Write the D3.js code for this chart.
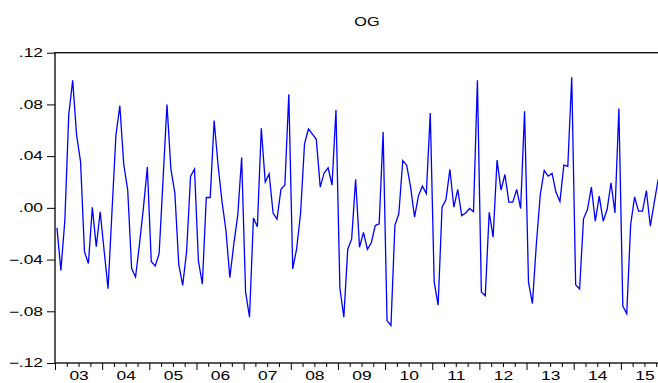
<!DOCTYPE html>
<html>
<head>
<meta charset="utf-8">
<script src="https://cdn.jsdelivr.net/npm/d3@7/dist/d3.min.js"></script>
<style>
  body { margin: 0; background: #fff; }
  svg { display: block; font-family: Arial, "Liberation Sans", sans-serif; }
</style>
</head>
<body>
<div id="chart"></div>
<script>
// monthly OG values, one array per year (2003M01 .. 2015M10)
const og03 = [-0.0155, -0.0485, -0.0100, 0.0720, 0.0986, 0.0560, 0.0360, -0.0340, -0.0430, 0.0005, -0.0300, -0.0030];
const og04 = [-0.0330, -0.0625, -0.0030, 0.0560, 0.0790, 0.0335, 0.0140, -0.0470, -0.0535, -0.0280, 0.0000, 0.0315];
const og05 = [-0.0415, -0.0450, -0.0355, 0.0220, 0.0800, 0.0297, 0.0116, -0.0440, -0.0600, -0.0335, 0.0245, 0.0300];
const og06 = [-0.0410, -0.0590, 0.0080, 0.0080, 0.0676, 0.0330, 0.0050, -0.0175, -0.0540, -0.0280, -0.0060, 0.0390];
const og07 = [-0.0650, -0.0846, -0.0078, -0.0146, 0.0615, 0.0200, 0.0263, -0.0040, -0.0087, 0.0143, 0.0177, 0.0878];
const og08 = [-0.0472, -0.0315, -0.0040, 0.0495, 0.0610, 0.0570, 0.0530, 0.0160, 0.0270, 0.0310, 0.0175, 0.0756];
const og09 = [-0.0620, -0.0845, -0.0320, -0.0240, 0.0220, -0.0305, -0.0190, -0.0320, -0.0270, -0.0137, -0.0124, 0.0586];
const og10 = [-0.0872, -0.0910, -0.0134, -0.0046, 0.0366, 0.0330, 0.0160, -0.0072, 0.0095, 0.0168, 0.0110, 0.0733];
const og11 = [-0.0575, -0.0753, 0.0005, 0.0065, 0.0297, 0.0005, 0.0142, -0.0060, -0.0040, -0.0005, -0.0030, 0.0986];
const og12 = [-0.0650, -0.0680, -0.0034, -0.0227, 0.0369, 0.0137, 0.0258, 0.0044, 0.0044, 0.0142, -0.0005, 0.0748];
const og13 = [-0.0575, -0.0740, -0.0280, 0.0103, 0.0289, 0.0245, 0.0266, 0.0120, 0.0050, 0.0330, 0.0320, 0.1010];
const og14 = [-0.0594, -0.0627, -0.0085, -0.0013, 0.0160, -0.0103, 0.0090, -0.0103, -0.0013, 0.0194, -0.0039, 0.0769];
const og15 = [-0.0760, -0.0820, -0.0129, 0.0085, -0.0026, -0.0026, 0.0134, -0.0142, 0.0040, 0.0220];

const yearLabels = ["03", "04", "05", "06", "07", "08", "09", "10", "11", "12", "13", "14", "15"];
const yTicks = [-0.12, -0.08, -0.04, 0.00, 0.04, 0.08, 0.12];
const title = "OG";

const series = [].concat(og03, og04, og05, og06, og07, og08, og09, og10, og11, og12, og13, og14, og15)
    .map((v, i) => ({ idx: i, value: v }));

const W = 658, H = 383;
const margin = { top: 52.7, left: 55, bottom: 20 };
const plotRight = 668;   // frame runs past the right edge of the picture
const plotBottom = H - margin.bottom;

// text in the original is drawn wide; stretch it horizontally
function widen(sel, k) {
    sel.each(function () {
        const len = this.getComputedTextLength();
        d3.select(this)
            .attr("textLength", len * k)
            .attr("lengthAdjust", "spacingAndGlyphs");
    });
}

const svg = d3.select("#chart")
    .append("svg")
    .attr("width", W)
    .attr("height", H);

const x = d3.scaleLinear()
    .domain([0, yearLabels.length * 12])
    .range([margin.left, plotRight]);

const y = d3.scaleLinear()
    .domain([-0.12, 0.12])
    .range([plotBottom, margin.top]);

const fmt = d => d3.format(".2f")(d).replace("0.", ".");

// y axis
svg.append("g")
    .attr("transform", `translate(${margin.left},0)`)
    .call(d3.axisLeft(y).tickValues(yTicks).tickSize(8).tickPadding(4).tickFormat(fmt))
    .call(g => g.select(".domain").remove())
    .selectAll("text")
    .style("font-size", "12px")
    .style("fill", "#000")
    .call(widen, 1.45);

// x axis: quarter ticks, longer year ticks, year labels centred
const quarterTicks = d3.range(0, yearLabels.length * 12 + 1, 3);
svg.append("g")
    .attr("transform", `translate(0,${plotBottom})`)
    .call(d3.axisBottom(x).tickValues(quarterTicks.filter(d => d % 12 !== 0)).tickSize(4).tickFormat(""))
    .call(g => g.select(".domain").remove());

svg.append("g")
    .attr("transform", `translate(0,${plotBottom})`)
    .call(d3.axisBottom(x).tickValues(quarterTicks.filter(d => d % 12 === 0)).tickSize(7).tickFormat(""))
    .call(g => g.select(".domain").remove());

svg.append("g")
    .attr("transform", `translate(0,${plotBottom})`)
    .call(d3.axisBottom(x).tickValues(yearLabels.map((d, i) => i * 12 + 6)).tickSize(0).tickPadding(8)
        .tickFormat((d, i) => yearLabels[i]))
    .call(g => g.select(".domain").remove())
    .selectAll("text")
    .style("font-size", "12px")
    .style("fill", "#000")
    .call(widen, 1.45);

svg.selectAll(".tick line").attr("stroke", "#000");

// frame
svg.append("rect")
    .attr("x", margin.left)
    .attr("y", margin.top)
    .attr("width", plotRight - margin.left)
    .attr("height", plotBottom - margin.top)
    .attr("fill", "none")
    .attr("stroke", "#000")
    .attr("stroke-width", 1.3);

// series
const line = d3.line()
    .x(d => x(d.idx + 0.5))
    .y(d => y(d.value));

svg.append("path")
    .datum(series)
    .attr("d", line)
    .attr("fill", "none")
    .attr("stroke", "#0000ff")
    .attr("stroke-width", 1.3)
    .attr("stroke-linejoin", "miter");

svg.append("text")
    .attr("x", 367)
    .attr("y", 26)
    .attr("text-anchor", "middle")
    .style("font-size", "13px")
    .text(title)
    .call(widen, 1.25);
</script>
</body>
</html>
